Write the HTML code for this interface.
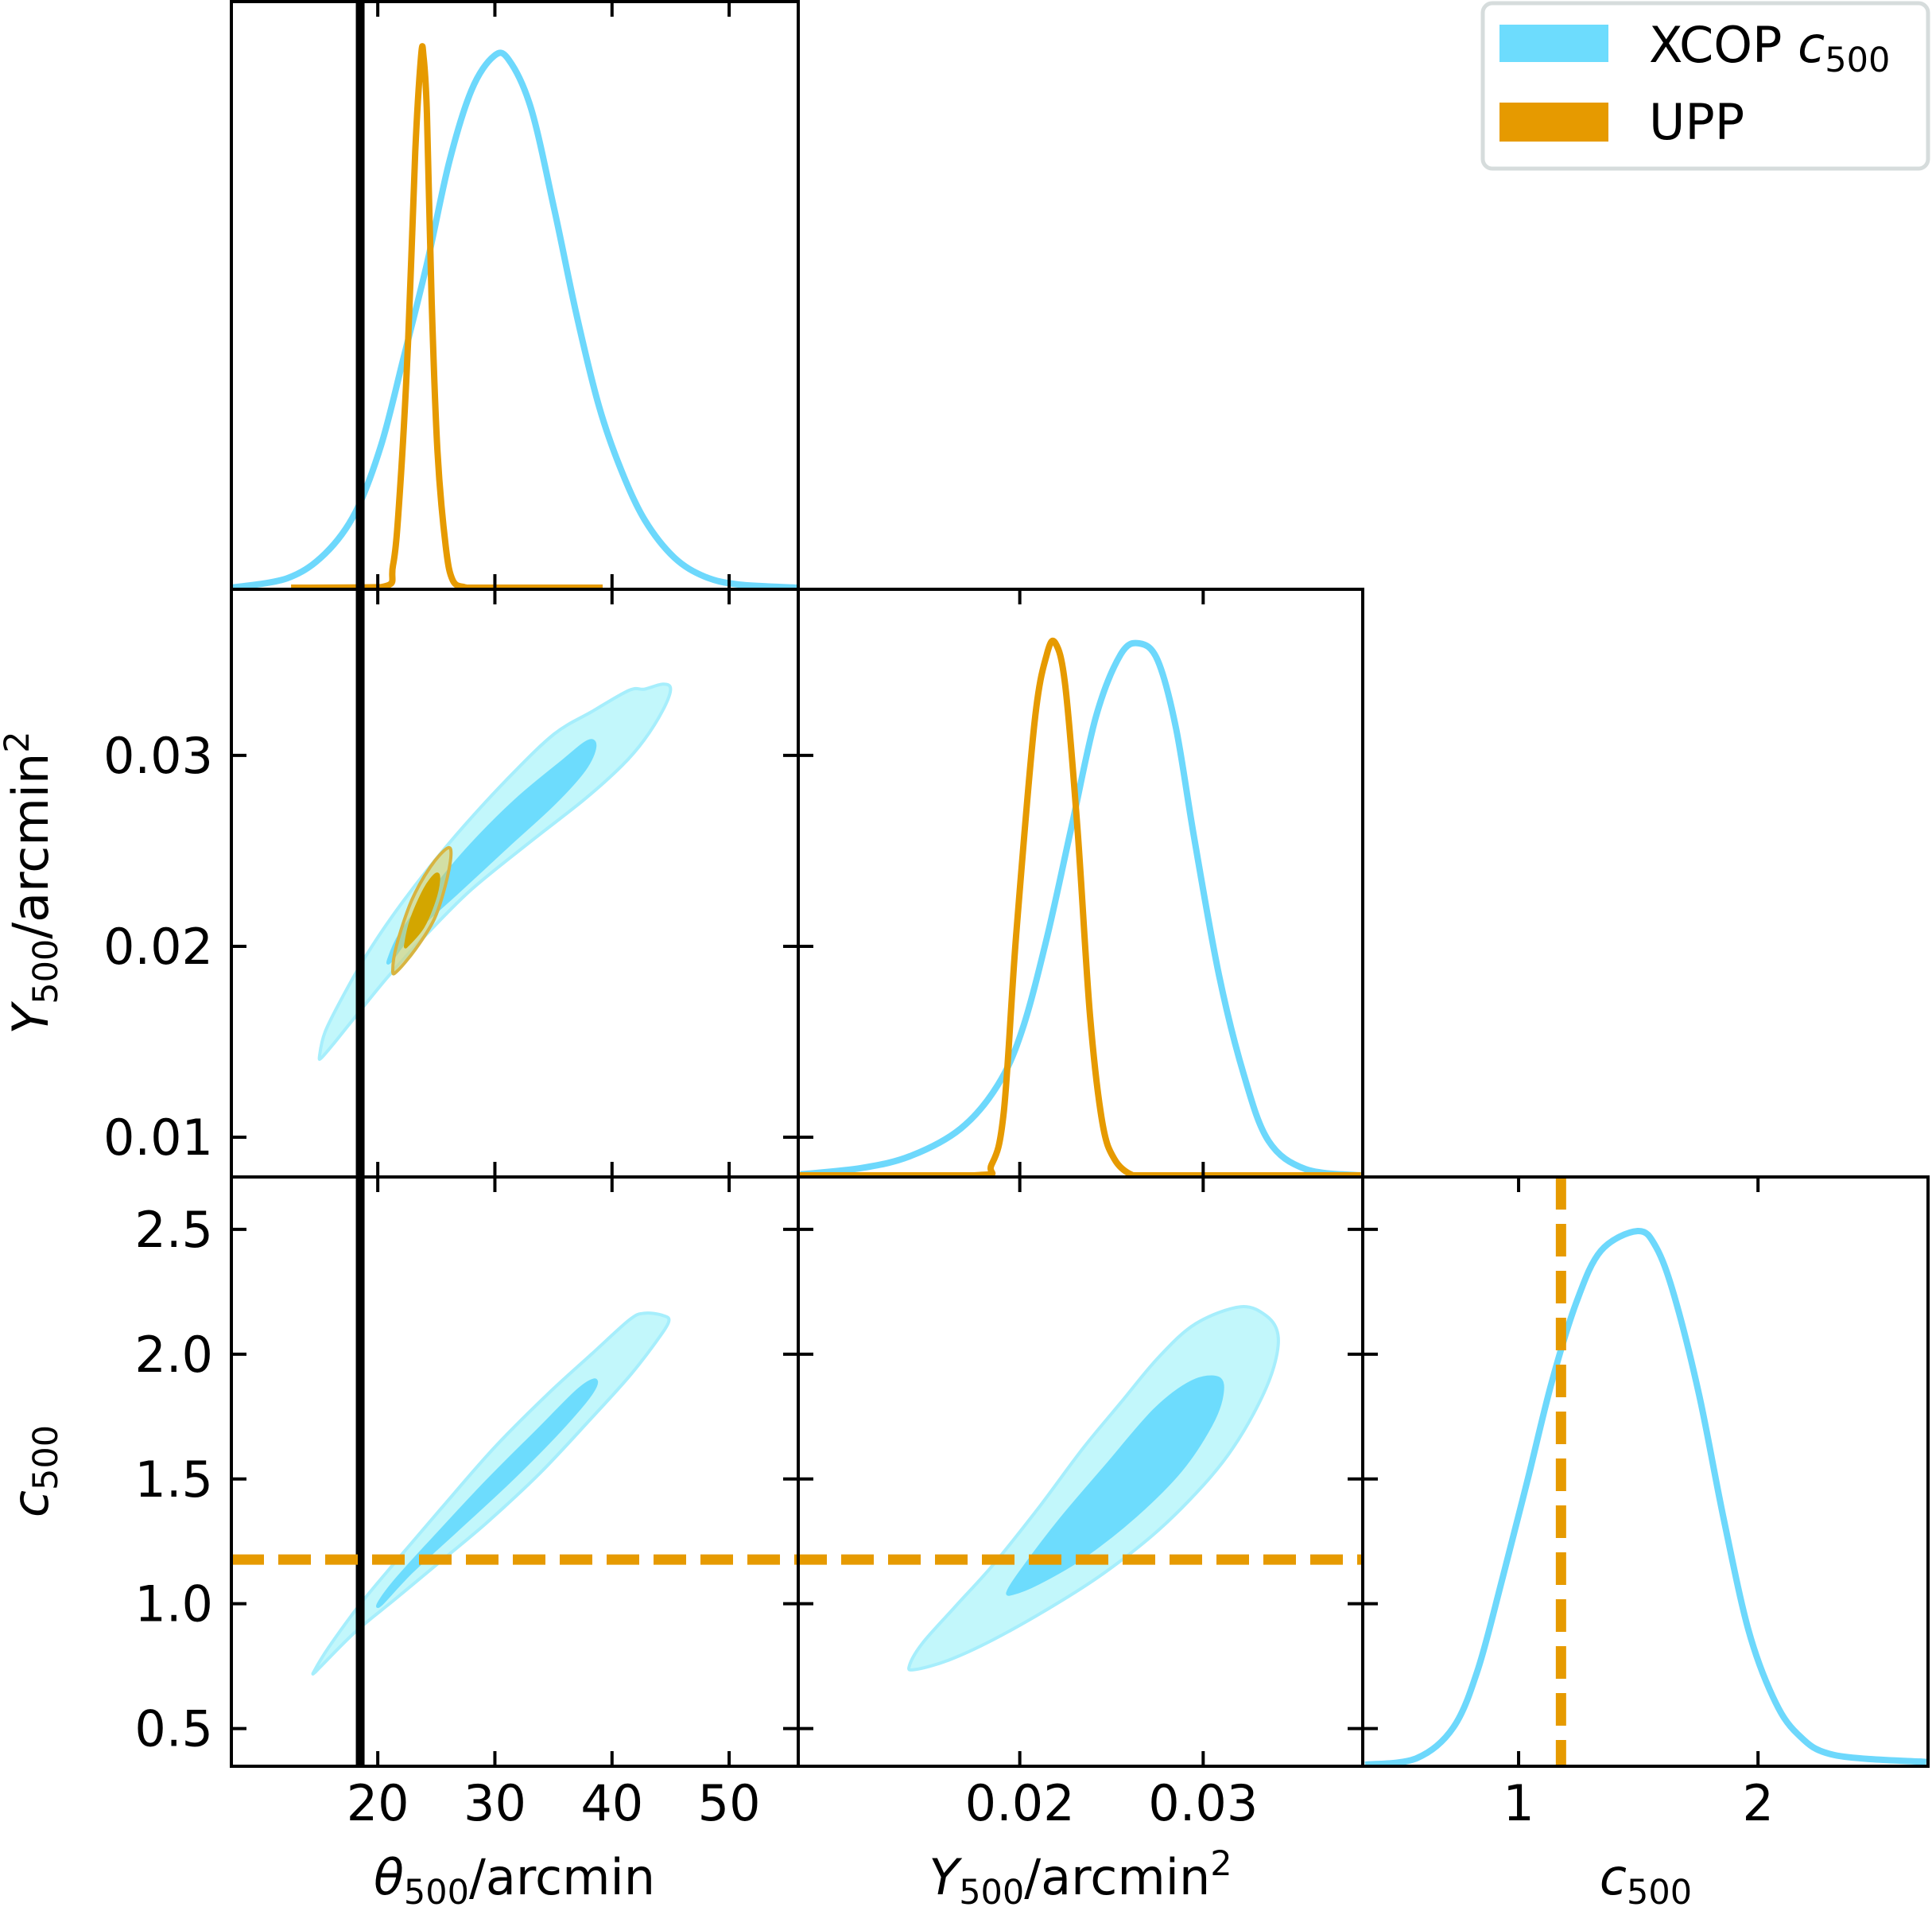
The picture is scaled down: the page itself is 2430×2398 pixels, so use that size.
<!DOCTYPE html>
<html><head><meta charset="utf-8">
<style>
html,body{margin:0;padding:0;background:#fff;}
svg{display:block;}
text{font-family:"DejaVu Sans","Liberation Sans",sans-serif;fill:#000;}
</style></head>
<body>
<svg id="chart" width="2430" height="2398" viewBox="0 0 2430 2398" xmlns="http://www.w3.org/2000/svg">
<g id="marks"></g>
<g id="frames"></g>
<g id="labels"></g>
<g id="legend">
  <rect x="1865" y="4" width="560" height="208" rx="12" fill="#fff" stroke="#d6dcdc" stroke-width="5"/>
  <rect x="1886" y="31" width="137" height="47" fill="#6ddcfd"/>
  <text x="2074" y="78" font-size="62">XCOP <tspan font-style="italic">c</tspan><tspan font-size="43" dy="12">500</tspan></text>
  <rect x="1886" y="129" width="137" height="49" fill="#e69a00"/>
  <text x="2074" y="175" font-size="62">UPP</text>
</g>
</svg>
<script>
// ---- data ----
const thetaTicks = [20, 30, 40, 50];
const yTicks = [0.01, 0.02, 0.03];
const yTickLabels = ["0.01", "0.02", "0.03"];
const yTicksX = [0.02, 0.03];
const yTicksXLabels = ["0.02", "0.03"];
const cTicks = [0.5, 1.0, 1.5, 2.0, 2.5];
const cTickLabels = ["0.5", "1.0", "1.5", "2.0", "2.5"];
const cTicksX = [1, 2];
const cTicksXLabels = ["1", "2"];

const thetaRef = 18.5;
const cUPP = 1.177;

// 1D marginals
const thetaXcopX = [7.5, 12.3, 15.5, 18.1, 20.3, 22.2, 24.2, 26.1, 28.0, 29.9, 31.2, 33.1, 35.1, 37.0, 38.9, 40.8, 42.8, 45.3, 47.9, 50.8, 55.9];
const thetaXcopD = [0, 0.018, 0.064, 0.142, 0.269, 0.432, 0.609, 0.8, 0.935, 0.999, 0.992, 0.9, 0.708, 0.51, 0.34, 0.22, 0.127, 0.057, 0.021, 0.006, 0];
const thetaUppX = [12.6, 20.3, 21.3, 21.9, 22.6, 23.2, 23.7, 23.9, 24.2, 24.6, 25.1, 25.8, 26.4, 27.4, 28.5, 39.2];
const thetaUppD = [0, 0.001, 0.042, 0.184, 0.467, 0.82, 0.999, 1.0, 0.89, 0.54, 0.255, 0.078, 0.014, 0.001, 0, 0];

const yXcopX = [0.00805, 0.01141, 0.01409, 0.01678, 0.01879, 0.02013, 0.02148, 0.02282, 0.02416, 0.0255, 0.02651, 0.02752, 0.02852, 0.02953, 0.03087, 0.03221, 0.03356, 0.03557, 0.03859];
const yXcopD = [0.002, 0.014, 0.037, 0.088, 0.169, 0.273, 0.447, 0.655, 0.863, 0.979, 1.0, 0.968, 0.84, 0.63, 0.375, 0.19, 0.065, 0.012, 0.0];
const yUppX = [0.0079, 0.01745, 0.01846, 0.01913, 0.0198, 0.0208, 0.02148, 0.02195, 0.02248, 0.02315, 0.02383, 0.0245, 0.02517, 0.02617, 0.0272, 0.0386];
const yUppD = [0, 0, 0.02, 0.12, 0.45, 0.85, 0.98, 1.0, 0.92, 0.65, 0.3, 0.1, 0.03, 0, 0, 0];

const cXcopX = [0.359, 0.574, 0.728, 0.831, 0.933, 1.036, 1.138, 1.241, 1.344, 1.497, 1.574, 1.651, 1.754, 1.856, 1.959, 2.062, 2.164, 2.318, 2.703];
const cXcopD = [0, 0.012, 0.07, 0.18, 0.35, 0.531, 0.716, 0.866, 0.963, 1.0, 0.97, 0.877, 0.693, 0.462, 0.254, 0.127, 0.058, 0.018, 0.005];

// 2D contours (theta, Y)
const tyOuterT = [15.03, 15.51, 17.12, 19.04, 21.28, 24.17, 27.37, 31.22, 35.06, 38.27, 41.47, 42.76, 44.36, 45.0, 44.36, 42.76, 40.83, 37.63, 33.14, 28.01, 24.17, 20.96, 18.08, 16.15, 15.19];
const tyOuterY = [0.014255, 0.015529, 0.01749, 0.01955, 0.02161, 0.02396, 0.02631, 0.02886, 0.03112, 0.03229, 0.03341, 0.03347, 0.03373, 0.03347, 0.03239, 0.03082, 0.02945, 0.02769, 0.02553, 0.02298, 0.02063, 0.01847, 0.01631, 0.01484, 0.01416];
const tyInnerT = [20.96, 21.92, 24.49, 28.01, 31.86, 35.71, 37.95, 38.53, 37.63, 35.06, 31.22, 26.73, 22.88, 21.12];
const tyInnerY = [0.01935, 0.02063, 0.02278, 0.02533, 0.02769, 0.02965, 0.03073, 0.03043, 0.02925, 0.02749, 0.02533, 0.02278, 0.02063, 0.01925];
const tyUppOuterT = [21.28, 21.6, 22.88, 24.49, 25.93, 26.25, 25.77, 24.81, 23.21, 21.6];
const tyUppOuterY = [0.01876, 0.02004, 0.02239, 0.02416, 0.02514, 0.02475, 0.02318, 0.02141, 0.01984, 0.01867];
const tyUppInnerT = [22.4, 22.88, 24.01, 24.97, 25.19, 24.81, 23.85, 22.56];
const tyUppInnerY = [0.02014, 0.02141, 0.02298, 0.02376, 0.02347, 0.02239, 0.02102, 0.02008];

// (theta, c)
const tcOuterT = [14.55, 15.83, 18.4, 21.6, 25.45, 29.94, 34.42, 38.27, 41.47, 42.76, 44.36, 44.84, 43.72, 41.47, 38.27, 33.78, 29.29, 25.45, 21.6, 18.08, 15.19, 14.62];
const tcOuterC = [0.7289, 0.8268, 0.9925, 1.173, 1.384, 1.625, 1.836, 2.001, 2.137, 2.164, 2.155, 2.13, 2.047, 1.911, 1.745, 1.52, 1.324, 1.173, 1.023, 0.887, 0.7515, 0.7244];
const tcInnerT = [20.16, 21.6, 24.81, 29.29, 33.78, 36.99, 38.43, 38.59, 37.63, 35.06, 31.22, 26.73, 22.88, 20.32];
const tcInnerC = [1.008, 1.098, 1.264, 1.489, 1.7, 1.851, 1.896, 1.873, 1.806, 1.67, 1.489, 1.294, 1.128, 1.0];

// (Y, c)
const ycOuterY = [0.01398, 0.01469, 0.01653, 0.01857, 0.02102, 0.02347, 0.02551, 0.02755, 0.02959, 0.03204, 0.03347, 0.03408, 0.03388, 0.03306, 0.03163, 0.03, 0.02755, 0.02469, 0.02184, 0.01857, 0.01612, 0.01429];
const ycOuterC = [0.7515, 0.8419, 0.9925, 1.158, 1.384, 1.625, 1.806, 1.986, 2.122, 2.19, 2.152, 2.077, 1.956, 1.806, 1.625, 1.474, 1.294, 1.128, 0.9925, 0.8569, 0.7741, 0.7364];
const ycInnerY = [0.01939, 0.0202, 0.02224, 0.02469, 0.02735, 0.02939, 0.03082, 0.03102, 0.03041, 0.02878, 0.02633, 0.02347, 0.02102, 0.01959];
const ycInnerC = [1.053, 1.143, 1.339, 1.55, 1.776, 1.889, 1.904, 1.836, 1.715, 1.535, 1.354, 1.188, 1.083, 1.041];

// ---- layout ----
const NS = "http://www.w3.org/2000/svg";
const colX = [291, 1004, 1714, 2425];
const rowY = [2, 741, 1480, 2221];
const thetaRange = [7.5, 55.9];
const yRange = [0.00792, 0.0387];
const cRange = [0.349, 2.71];

function lin(d0, d1, p0, p1) { return v => p0 + (v - d0) / (d1 - d0) * (p1 - p0); }
const xTheta = lin(thetaRange[0], thetaRange[1], colX[0], colX[1]);
const xY = lin(yRange[0], yRange[1], colX[1], colX[2]);
const xC = lin(cRange[0], cRange[1], colX[2], colX[3]);
const yYrow = lin(yRange[0], yRange[1], rowY[2], rowY[1]);
const yCrow = lin(cRange[0], cRange[1], rowY[3], rowY[2]);
const dens = (r) => lin(0, 1, rowY[r + 1] - 2, rowY[r] + 68);

const marks = document.getElementById('marks');
const frames = document.getElementById('frames');
const labels = document.getElementById('labels');

function el(tag, attrs, parent) {
  const e = document.createElementNS(NS, tag);
  for (const k in attrs) e.setAttribute(k, attrs[k]);
  parent.appendChild(e);
  return e;
}
function f1(v) { return v.toFixed(1); }
function smoothClosed(pts) {
  const n = pts.length;
  let d = 'M' + f1(pts[0][0]) + ',' + f1(pts[0][1]);
  for (let i = 0; i < n; i++) {
    const p0 = pts[(i - 1 + n) % n], p1 = pts[i], p2 = pts[(i + 1) % n], p3 = pts[(i + 2) % n];
    const c1 = [p1[0] + (p2[0] - p0[0]) / 6, p1[1] + (p2[1] - p0[1]) / 6];
    const c2 = [p2[0] - (p3[0] - p1[0]) / 6, p2[1] - (p3[1] - p1[1]) / 6];
    d += 'C' + f1(c1[0]) + ',' + f1(c1[1]) + ' ' + f1(c2[0]) + ',' + f1(c2[1]) + ' ' + f1(p2[0]) + ',' + f1(p2[1]);
  }
  return d + 'Z';
}
function smoothOpen(pts) {
  const n = pts.length;
  let d = 'M' + f1(pts[0][0]) + ',' + f1(pts[0][1]);
  for (let i = 0; i < n - 1; i++) {
    const p0 = pts[Math.max(i - 1, 0)], p1 = pts[i], p2 = pts[i + 1], p3 = pts[Math.min(i + 2, n - 1)];
    const c1 = [p1[0] + (p2[0] - p0[0]) / 6, p1[1] + (p2[1] - p0[1]) / 6];
    const c2 = [p2[0] - (p3[0] - p1[0]) / 6, p2[1] - (p3[1] - p1[1]) / 6];
    const lo = Math.max(p1[1], p2[1]);
    d += 'C' + f1(c1[0]) + ',' + f1(Math.min(c1[1], lo)) + ' ' + f1(c2[0]) + ',' + f1(Math.min(c2[1], lo)) + ' ' + f1(p2[0]) + ',' + f1(p2[1]);
  }
  return d;
}

function contour(xs, ys, fx, fy, fill, stroke, name, clipId) {
  const pts = xs.map((v, i) => [fx(v), fy(ys[i])]);
  const p = el('path', { d: smoothClosed(pts), fill: fill, stroke: stroke, 'stroke-width': 4, 'clip-path': 'url(#' + clipId + ')' }, marks);
  
  
}
function curve(xs, ds, fx, fy, color, name, clipId) {
  const pts = xs.map((v, i) => [fx(v), fy(ds[i])]);
  const p = el('path', { d: smoothOpen(pts), fill: 'none', stroke: color, 'stroke-width': 8, 'stroke-linejoin': 'round', 'clip-path': 'url(#' + clipId + ')' }, marks);
  
  
}

const defs = el('defs', {}, document.getElementById('chart'));
const panels = [[0, 0], [1, 0], [1, 1], [2, 0], [2, 1], [2, 2]];
panels.forEach(([r, c]) => {
  const cp = el('clipPath', { id: 'clip' + r + c }, defs);
  el('rect', { x: colX[c], y: rowY[r], width: colX[c + 1] - colX[c], height: rowY[r + 1] - rowY[r] }, cp);
});

const LIGHT = '#c2f7fb', LIGHTE = '#a6eefc', DARK = '#6ddcfd', BLUE = '#6dd8fc', ORANGE = '#e69a00';

curve(thetaXcopX, thetaXcopD, xTheta, dens(0), BLUE, 'theta-xcop-marginal', 'clip00');
curve(thetaUppX, thetaUppD, xTheta, dens(0), ORANGE, 'theta-upp-marginal', 'clip00');
curve(yXcopX, yXcopD, xY, dens(1), BLUE, 'y500-xcop-marginal', 'clip11');
curve(yUppX, yUppD, xY, dens(1), ORANGE, 'y500-upp-marginal', 'clip11');
curve(cXcopX, cXcopD, xC, dens(2), BLUE, 'c500-xcop-marginal', 'clip22');

contour(tyOuterT, tyOuterY, xTheta, yYrow, LIGHT, LIGHTE, 'theta-y500-xcop-95', 'clip10');
contour(tyInnerT, tyInnerY, xTheta, yYrow, DARK, DARK, 'theta-y500-xcop-68', 'clip10');
contour(tyUppOuterT, tyUppOuterY, xTheta, yYrow, 'rgba(225,200,80,0.5)', '#d8b440', 'theta-y500-upp-95', 'clip10');
contour(tyUppInnerT, tyUppInnerY, xTheta, yYrow, '#d3a600', '#d3a600', 'theta-y500-upp-68', 'clip10');
contour(tcOuterT, tcOuterC, xTheta, yCrow, LIGHT, LIGHTE, 'theta-c500-xcop-95', 'clip20');
contour(tcInnerT, tcInnerC, xTheta, yCrow, DARK, DARK, 'theta-c500-xcop-68', 'clip20');
contour(ycOuterY, ycOuterC, xY, yCrow, LIGHT, LIGHTE, 'y500-c500-xcop-95', 'clip21');
contour(ycInnerY, ycInnerC, xY, yCrow, DARK, DARK, 'y500-c500-xcop-68', 'clip21');

const vl = el('line', { x1: xTheta(thetaRef), x2: xTheta(thetaRef), y1: rowY[0], y2: rowY[3], stroke: '#000', 'stroke-width': 11 }, marks);


const hl = el('line', { x1: colX[0], x2: colX[2], y1: yCrow(cUPP), y2: yCrow(cUPP), stroke: ORANGE, 'stroke-width': 13, 'stroke-dasharray': '41 18' }, marks);


const vd = el('line', { x1: xC(cUPP), x2: xC(cUPP), y1: rowY[2], y2: rowY[3], stroke: ORANGE, 'stroke-width': 13, 'stroke-dasharray': '41 18' }, marks);



const TL = 19;
function tick(x1, y1, x2, y2) { el('line', { x1, y1, x2, y2, stroke: '#000', 'stroke-width': 4 }, frames); }
const xInfo = [[thetaTicks, xTheta], [yTicksX, xY], [cTicksX, xC]];
const yInfo = [null, [yTicks, yYrow], [cTicks, yCrow]];
panels.forEach(([r, c]) => {
  const f = el('rect', { x: colX[c], y: rowY[r], width: colX[c + 1] - colX[c], height: rowY[r + 1] - rowY[r], fill: 'none', stroke: '#000', 'stroke-width': 4 }, frames);
  
  
  const [xt, fx] = xInfo[c];
  xt.forEach(v => {
    const x = fx(v);
    tick(x, rowY[r + 1], x, rowY[r + 1] - TL);
    tick(x, rowY[r], x, rowY[r] + TL);
  });
  if (yInfo[r]) {
    const [yt, fy] = yInfo[r];
    yt.forEach(v => {
      const y = fy(v);
      tick(colX[c], y, colX[c] + TL, y);
      if (r !== c) tick(colX[c + 1], y, colX[c + 1] - TL, y);
    });
  }
});

function txt(x, y, s, anchor, name) {
  const t = el('text', { x, y, 'font-size': 62, 'text-anchor': anchor }, labels);
  t.textContent = s;
  
  
}
thetaTicks.forEach(v => txt(xTheta(v), 2289, String(v), 'middle', 'theta-tick-label'));
yTicksX.forEach((v, i) => txt(xY(v), 2289, yTicksXLabels[i], 'middle', 'y500-x-tick-label'));
cTicksX.forEach((v, i) => txt(xC(v), 2289, cTicksXLabels[i], 'middle', 'c500-x-tick-label'));
yTicks.forEach((v, i) => txt(268, yYrow(v) + 22, yTickLabels[i], 'end', 'y500-y-tick-label'));
cTicks.forEach((v, i) => txt(268, yCrow(v) + 22, cTickLabels[i], 'end', 'c500-y-tick-label'));
</script>
<svg style="position:absolute;left:0;top:0" width="2430" height="2398">
  <text x="647" y="2382" font-size="62" text-anchor="middle"><tspan font-style="italic">θ</tspan><tspan font-size="43" dy="12">500</tspan><tspan dy="-12">/arcmin</tspan></text>
  <text x="1359" y="2382" font-size="62" text-anchor="middle"><tspan font-style="italic">Y</tspan><tspan font-size="43" dy="12">500</tspan><tspan dy="-12">/arcmin</tspan><tspan font-size="43" dy="-24">2</tspan></text>
  <text x="2070" y="2382" font-size="62" text-anchor="middle"><tspan font-style="italic">c</tspan><tspan font-size="43" dy="12">500</tspan></text>
  <text transform="translate(60,1110) rotate(-90)" font-size="62" text-anchor="middle"><tspan font-style="italic">Y</tspan><tspan font-size="43" dy="12">500</tspan><tspan dy="-12">/arcmin</tspan><tspan font-size="43" dy="-24">2</tspan></text>
  <text transform="translate(60,1850) rotate(-90)" font-size="62" text-anchor="middle"><tspan font-style="italic">c</tspan><tspan font-size="43" dy="12">500</tspan></text>
</svg>
</body></html>
